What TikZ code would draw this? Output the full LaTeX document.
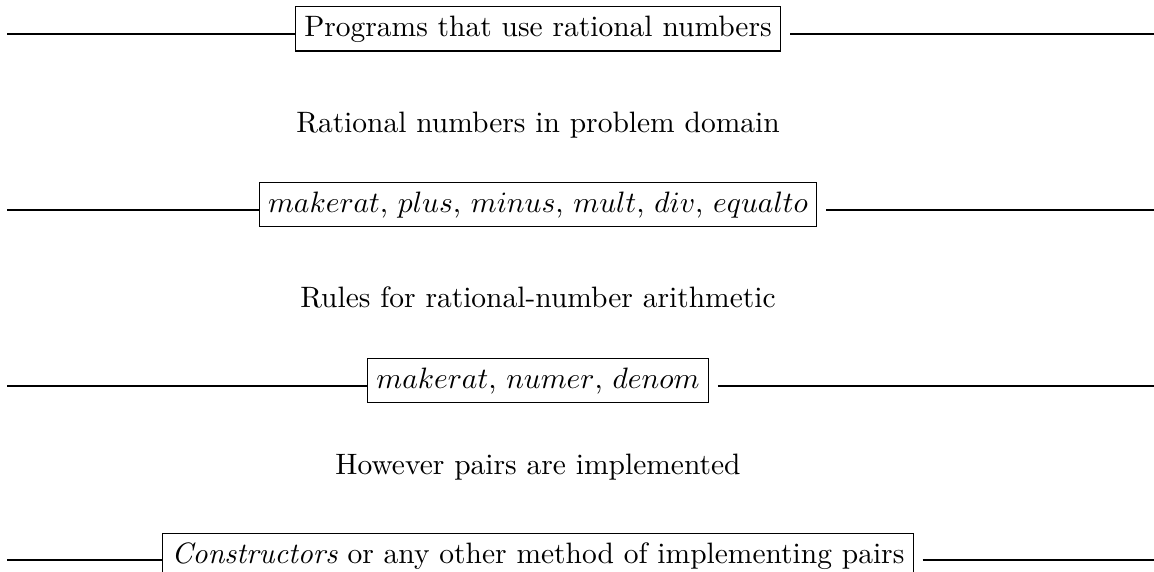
\documentclass[tikz,border=0pt]{standalone}
\usepackage{amsmath, amssymb}
\usepackage{tikz}

\begin{document}
\begin{tikzpicture}[x=0.339pt, y=-0.339pt,
  layer/.style={draw, inner sep=3pt, anchor=base},
  caption/.style={anchor=base}]
\useasboundingbox (0,0) rectangle (1154,571);

\node (P) [layer] at (538,36) {Programs that use rational numbers};
\node (D) [caption] at (538,132) {Rational numbers in problem domain};
\node (O) [layer] at (538,212) {$makerat$, $plus$, $minus$, $mult$, $div$, $equalto$};
\node (A) [caption] at (538,307) {Rules for rational-number arithmetic};
\node (S) [layer] at (538,388) {$makerat$, $numer$, $denom$};
\node (I) [caption] at (538,474) {However pairs are implemented};
\node (C) [layer] at (538,563) {\emph{Constructors} or any other method of implementing pairs};

\coordinate (lP) at (7,34);   \coordinate (rP) at (1154,34);
\coordinate (lO) at (7,210);  \coordinate (rO) at (1154,210);
\coordinate (lS) at (7,386);  \coordinate (rS) at (1154,386);
\coordinate (lC) at (7,560);  \coordinate (rC) at (1154,560);

\draw (lP) -- (lP -| P.west);
\draw ([xshift=3pt]P.east |- rP) -- (rP);
\draw (lO) -- (lO -| O.west);
\draw ([xshift=3pt]O.east |- rO) -- (rO);
\draw (lS) -- (lS -| S.west);
\draw ([xshift=3pt]S.east |- rS) -- (rS);
\draw (lC) -- (lC -| C.west);
\draw ([xshift=3pt]C.east |- rC) -- (rC);
\end{tikzpicture}
\end{document}
